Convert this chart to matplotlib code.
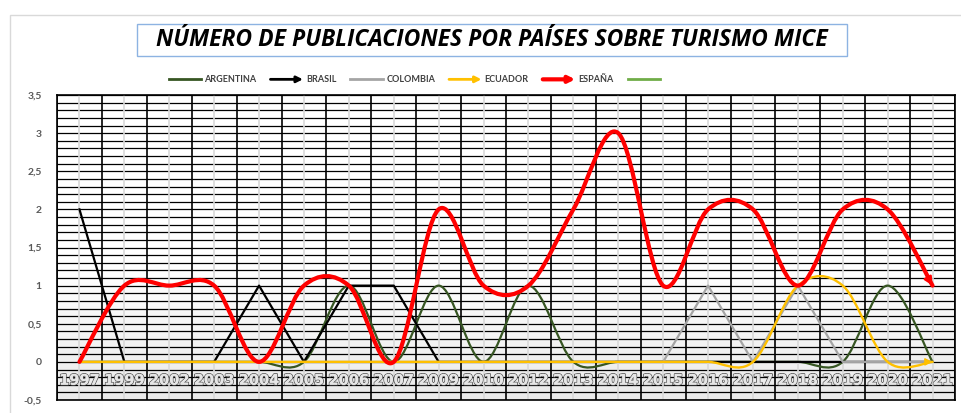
import numpy as np
import matplotlib
matplotlib.use('Agg')
import matplotlib.pyplot as plt
import matplotlib.patheffects as pe
from matplotlib.path import Path
from matplotlib.patches import PathPatch, FancyArrowPatch, Rectangle
from matplotlib.lines import Line2D
from matplotlib.legend_handler import HandlerLine2D

plt.rcParams['font.family'] = ['Lato', 'DejaVu Sans']

years = ['1997', '1999', '2002', '2003', '2004', '2005', '2006', '2007', '2009', '2010',
         '2012', '2013', '2014', '2015', '2016', '2017', '2018', '2019', '2020', '2021']
argentina = [0, 0, 0, 0, 0, 0, 1, 0, 1, 0, 1, 0, 0, 0, 0, 0, 0, 0, 1, 0]
brasil    = [2, 0, 0, 0, 1, 0, 1, 1, 0, 0, 0, 0, 0, 0, 0, 0, 0, 0, 0, 0]
colombia  = [0, 0, 0, 0, 0, 0, 0, 0, 0, 0, 0, 0, 0, 0, 1, 0, 1, 0, 0, 0]
ecuador   = [0, 0, 0, 0, 0, 0, 0, 0, 0, 0, 0, 0, 0, 0, 0, 0, 1, 1, 0, 0]
espana    = [0, 1, 1, 1, 0, 1, 1, 0, 2, 1, 1, 2, 3, 1, 2, 2, 1, 2, 2, 1]
y_ticks = [-0.5, 0, 0.5, 1, 1.5, 2, 2.5, 3, 3.5]
y_labels = ['-0,5', '0', '0,5', '1', '1,5', '2', '2,5', '3', '3,5']


def smooth_path(ys):
    # excel style smoothed line: bezier segments, catmull-rom control points
    xs = list(range(len(ys)))
    n = len(ys)
    verts = [(xs[0], ys[0])]
    codes = [Path.MOVETO]
    for i in range(n - 1):
        a = i - 1 if i > 0 else i
        b = i + 2 if i + 2 < n else i + 1
        c1 = (xs[i] + (xs[i + 1] - xs[a]) / 6.0, ys[i] + (ys[i + 1] - ys[a]) / 6.0)
        c2 = (xs[i + 1] - (xs[b] - xs[i]) / 6.0, ys[i + 1] - (ys[b] - ys[i]) / 6.0)
        verts += [c1, c2, (xs[i + 1], ys[i + 1])]
        codes += [Path.CURVE4] * 3
    return Path(verts, codes)


def add_smooth(ax, ys, color, lw, z, arrow=False, ms=12):
    p = smooth_path(ys)
    ax.add_patch(PathPatch(p, fill=False, edgecolor=color, lw=lw, zorder=z,
                           capstyle='round', joinstyle='round'))
    if arrow:
        end = p.vertices[-1]
        c2 = p.vertices[-2]
        start = end + (c2 - end) * 0.5
        ax.annotate('', xy=tuple(end), xytext=tuple(start), zorder=z,
                    arrowprops=dict(arrowstyle='-|>', color=color, lw=lw * 0.6,
                                    mutation_scale=ms, shrinkA=0, shrinkB=0))


class HandlerArrow(HandlerLine2D):
    def create_artists(self, legend, orig_handle, xdescent, ydescent, width, height,
                       fontsize, trans):
        y = height / 2.0 - ydescent
        arr = FancyArrowPatch((-xdescent, y), (width - xdescent, y), arrowstyle='-|>',
                              mutation_scale=9, color=orig_handle.get_color(),
                              lw=orig_handle.get_linewidth(), shrinkA=0, shrinkB=0)
        arr.set_transform(trans)
        return [arr]


fig = plt.figure(figsize=(9.62, 4.13), dpi=100)
fig.patches.append(Rectangle((10 / 962, -0.1), 1.2, 1 - 15 / 413 + 0.1, transform=fig.transFigure,
                             fill=False, edgecolor='#d9d9d9', lw=1))

ax = fig.add_axes([57 / 962, 13 / 413, 898 / 962, 305 / 413])
n = len(years)
ax.set_xlim(-0.5, n - 0.5)
ax.set_ylim(-0.5, 3.5)

# background fades to grey towards the bottom
yy = np.linspace(3.5, -0.5, 200)
shade = np.interp(yy, [-0.5, 0.0, 1.2], [0.92, 0.94, 1.0])
ax.imshow(np.repeat(shade[:, None, None], 3, axis=2), extent=[-0.5, n - 0.5, -0.5, 3.5],
          aspect='auto', zorder=0, interpolation='bilinear')

for v in np.arange(-0.5, 3.51, 0.1):
    ax.axhline(v, color='black', lw=0.9, zorder=1)
for i in range(n + 1):
    ax.axvline(i - 0.5, color='black', lw=1.2, zorder=1.2)
for i in range(n):
    ax.axvline(i, color='#d9d9d9', lw=1.2, zorder=1.4)

x = np.arange(n)
add_smooth(ax, argentina, '#375623', 1.6, 3)
ax.plot(x, brasil, color='black', lw=1.6, zorder=4)
ax.plot(x, colombia, color='#a5a5a5', lw=1.6, zorder=5)
add_smooth(ax, ecuador, '#ffc000', 1.7, 6, arrow=True, ms=11)
add_smooth(ax, espana, '#ff0000', 3.0, 7, arrow=True, ms=12)

for i, lab in enumerate(years):
    t = ax.text(i, -0.24, lab, ha='center', va='center', fontsize=10.5, fontweight='bold',
                family='DejaVu Sans', color='#e6e6e6', zorder=8)
    t.set_path_effects([pe.withStroke(linewidth=1.2, foreground='#555555'), pe.Normal()])

ax.set_xticks([])
ax.set_yticks(y_ticks)
ax.set_yticklabels(y_labels, fontsize=7.5, color='#595959', fontweight='bold')
ax.tick_params(axis='y', length=0, pad=11)
for s in ax.spines.values():
    s.set_color('black')
    s.set_linewidth(1.2)

handles = [
    Line2D([], [], color='#375623', lw=2),
    Line2D([], [], color='black', lw=2),
    Line2D([], [], color='#a5a5a5', lw=2),
    Line2D([], [], color='#ffc000', lw=2),
    Line2D([], [], color='#ff0000', lw=3),
    Line2D([], [], color='#70ad47', lw=2),
]
labels = ['ARGENTINA', 'BRASIL', 'COLOMBIA', 'ECUADOR', 'ESPAÑA', '']
hmap = {handles[1]: HandlerArrow(), handles[3]: HandlerArrow(), handles[4]: HandlerArrow()}
leg = fig.legend(handles, labels, handler_map=hmap, loc='center', ncol=6,
                 bbox_to_anchor=(416 / 962, 1 - 80 / 413), frameon=False,
                 fontsize=6.5, handlelength=3.6, handletextpad=0.35, columnspacing=1.55)
for t in leg.get_texts():
    t.set_color('#404040')
    t.set_fontweight('bold')

fig.patches.append(Rectangle((137 / 962, 1 - 56 / 413), 710 / 962, 32 / 413,
                             transform=fig.transFigure, fill=False, edgecolor='#8db3e2', lw=1))
fig.text(492 / 962, 1 - 40 / 413, 'NÚMERO DE PUBLICACIONES POR PAÍSES SOBRE TURISMO MICE',
         ha='center', va='center', fontsize=16.5, fontweight='bold', fontstyle='italic',
         family=['Open Sans', 'DejaVu Sans'], color='black')

fig.savefig('out.png', dpi=100)
